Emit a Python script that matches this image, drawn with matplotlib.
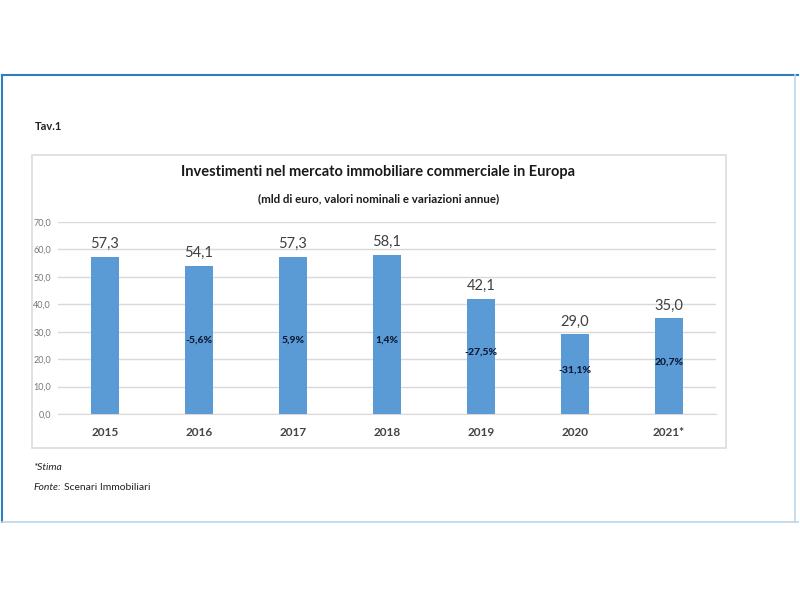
import matplotlib.pyplot as plt
from matplotlib.patches import Rectangle
from matplotlib.lines import Line2D

years = ["2015", "2016", "2017", "2018", "2019", "2020", "2021*"]
values = [57.3, 54.1, 57.3, 58.1, 42.1, 29.0, 35.0]
changes = ["", "-5,6%", "5,9%", "1,4%", "-27,5%", "-31,1%", "20,7%"]
yticks = [0, 10, 20, 30, 40, 50, 60, 70]

plt.rcParams["font.family"] = ["Lato", "DejaVu Sans"]

BAR = "#5b9bd5"

fig = plt.figure(figsize=(8, 6), dpi=100)

# outer frame
fig.add_artist(Line2D([0.003, 0.997], [1 - 75 / 600, 1 - 75 / 600], color="#2f7fc0", lw=1.5))
fig.add_artist(Line2D([0.003, 0.003], [1 - 75 / 600, 1 - 522 / 600], color="#2f7fc0", lw=1.5))
fig.add_artist(Line2D([0.003, 0.997], [1 - 522 / 600, 1 - 522 / 600], color="#bcd7ea", lw=1.2))
fig.add_artist(Line2D([0.994, 0.994], [1 - 75 / 600, 1 - 522 / 600], color="#bcd7ea", lw=1.2))

# chart box
fig.add_artist(Rectangle((32 / 800, 1 - 448 / 600), (726 - 32) / 800, (448 - 155) / 600,
                         transform=fig.transFigure, fill=False, ec="#dcdcdc", lw=1.2))

fig.text(35 / 800, 1 - 127 / 600, "Tav.1", fontsize=8, fontweight="bold", color="#222222",
         va="center")
fig.text(378 / 800, 1 - 172 / 600, "Investimenti nel mercato immobiliare commerciale in Europa",
         fontsize=10.5, fontweight="bold", color="#1a1a1a", ha="center", va="center")
fig.text(379 / 800, 1 - 199 / 600, "(mld di euro, valori nominali e variazioni annue)",
         fontsize=8.3, fontweight="bold", color="#1a1a1a", ha="center", va="center")

ax = fig.add_axes([58 / 800, 1 - 414 / 600, (716 - 58) / 800, (414 - 222) / 600])
x = range(len(years))
ax.bar(x, values, width=0.3, color=BAR, zorder=3)
ax.set_xlim(-0.5, len(years) - 0.5)
ax.set_ylim(0, 70)
ax.set_yticks(yticks)
ax.set_yticklabels([f"{v:.1f}".replace(".", ",") for v in yticks], fontsize=6.5, color="#777777")
ax.set_xticks(list(x))
ax.set_xticklabels(years, fontsize=8.5, fontweight="bold", color="#444444")
ax.tick_params(axis="y", length=0, pad=5)
ax.tick_params(axis="x", length=0, pad=9)
ax.grid(axis="y", color="#d9d9d9", lw=1, zorder=0)
for s in ["left", "right", "top"]:
    ax.spines[s].set_visible(False)
ax.spines["bottom"].set_color("#d9d9d9")

for i, v in enumerate(values):
    ax.text(i, v + 2, f"{v:.1f}".replace(".", ","), ha="center", va="bottom",
            fontsize=10.5, color="#404040")
    if changes[i]:
        ax.text(i, min(27, v * 0.5 + 1.5), changes[i], ha="center", va="center",
                fontsize=7.5, fontweight="black", color="#0d1a36")

fig.text(33 / 800, 1 - 467 / 600, "*Stima", fontsize=7.5, style="italic", color="#222222",
         va="center")
fig.text(33 / 800, 1 - 487 / 600, "Fonte:", fontsize=7.5, style="italic", color="#222222",
         va="center")
fig.text(64 / 800, 1 - 487 / 600, "Scenari Immobiliari", fontsize=7.5, color="#222222",
         va="center")

fig.savefig("out.png", dpi=100)
